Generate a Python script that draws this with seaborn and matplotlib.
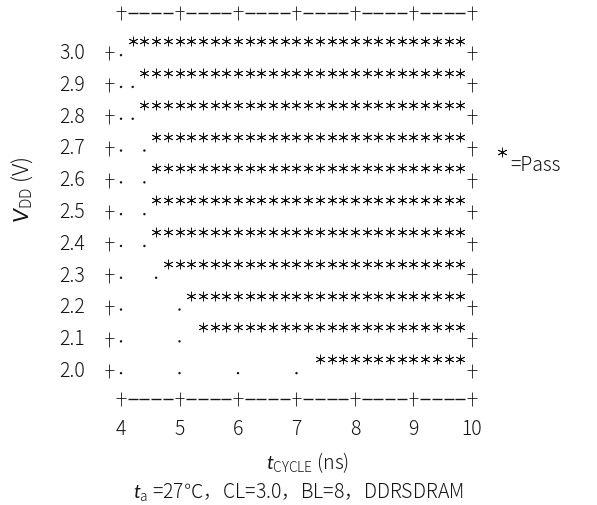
import numpy as np
import pandas as pd
import matplotlib
matplotlib.use("Agg")
import matplotlib.pyplot as plt
import matplotlib.transforms as mtransforms
from matplotlib.path import Path
import seaborn as sns

# Supply voltages (rows, top to bottom) and cycle-time columns of the shmoo grid
vdd_levels = [3.0, 2.9, 2.8, 2.7, 2.6, 2.5, 2.4, 2.3, 2.2, 2.1, 2.0]
tcycle_cols = [4.0, 4.2, 4.4, 4.6, 4.8, 5.0, 5.2, 5.4, 5.6, 5.8,
               6.0, 6.2, 6.4, 6.6, 6.8, 7.0, 7.2, 7.4, 7.6, 7.8,
               8.0, 8.2, 8.4, 8.6, 8.8, 9.0, 9.2, 9.4, 9.6, 9.8]

# One string per voltage: '*' = pass, '.' = fail, ' ' = not tested
shmoo_rows = [
    "." + "*" * 29,
    ".." + "*" * 28,
    ".." + "*" * 28,
    ". ." + "*" * 27,
    ". ." + "*" * 27,
    ". ." + "*" * 27,
    ". ." + "*" * 27,
    ".  ." + "*" * 26,
    ".    ." + "*" * 24,
    ".    . " + "*" * 23,
    ".    .    .    . " + "*" * 13,
]

x_ticks = [4, 5, 6, 7, 8, 9, 10]
y_ticks = [3.0, 2.9, 2.8, 2.7, 2.6, 2.5, 2.4, 2.3, 2.2, 2.1, 2.0]
y_ticklabels = ["3.0", "2.9", "2.8", "2.7", "2.6", "2.5", "2.4", "2.3", "2.2", "2.1", "2.0"]

records = []
for v, row in zip(vdd_levels, shmoo_rows):
    for t, ch in zip(tcycle_cols, row):
        if ch == "*":
            records.append((t, v, "Pass"))
        elif ch == ".":
            records.append((t, v, "Fail"))
df = pd.DataFrame(records, columns=["tcycle", "vdd", "result"])

sns.set_style("white")
plt.rcParams["font.family"] = ["Noto Sans CJK JP", "DejaVu Sans"]
plt.rcParams["font.weight"] = "light"
plt.rcParams["mathtext.fontset"] = "custom"
plt.rcParams["mathtext.rm"] = "Noto Sans CJK JP:light"
plt.rcParams["mathtext.it"] = "Lato:italic:regular"

fig = plt.figure(figsize=(5.97, 5.05), dpi=100)
ax = fig.add_axes([0.1635, 0.1812, 0.6516, 0.8123])
ax.set_xlim(3.6, 10.25)
ax.set_ylim(1.86, 3.15)

ink = "#151515"
asterisk = (6, 2, 0)
# character-style plus: crossbar a little above the middle of a tall stem
plus_mark = Path([(-0.38, 0.12), (0.38, 0.12), (0.0, -0.6), (0.0, 0.6)],
                 [Path.MOVETO, Path.LINETO, Path.MOVETO, Path.LINETO])


def shift(points):
    return mtransforms.offset_copy(ax.transData, fig=fig, x=0, y=points, units="points")


# Pass points: six-armed asterisks, raised like superscript glyphs
sns.scatterplot(data=df[df.result == "Pass"], x="tcycle", y="vdd",
                marker=asterisk, s=42, color=ink, linewidth=0.6,
                legend=False, ax=ax)
ax.collections[-1].set_offset_transform(shift(7.0))

# Fail points: small dots on the baseline
sns.scatterplot(data=df[df.result == "Fail"], x="tcycle", y="vdd",
                marker="o", s=3, color=ink, edgecolor="none",
                legend=False, ax=ax)
ax.collections[-1].set_offset_transform(shift(-3.0))

# Frame drawn in the character-plot style: '+' marks and dashes
row_left = pd.DataFrame({"tcycle": [3.8] * len(vdd_levels), "vdd": vdd_levels})
row_right = pd.DataFrame({"tcycle": [10.0] * len(vdd_levels), "vdd": vdd_levels})
for side in (row_left, row_right):
    sns.scatterplot(data=side, x="tcycle", y="vdd", marker=plus_mark, s=110,
                    facecolor="none", edgecolor=ink, linewidth=0.6,
                    legend=False, ax=ax)
    ax.collections[-1].set_offset_transform(shift(-1.5))

frame_levels = [3.12, 1.905]
dash_pos = [round(x_ticks[0] + 0.2 * k, 1) for k in range(31)]
dash_pos = [t for t in dash_pos if abs(t - round(t)) > 1e-6]
for lvl in frame_levels:
    ax.scatter(x_ticks, [lvl] * len(x_ticks), marker=plus_mark, s=110,
               facecolor="none", edgecolor=ink, linewidths=0.6)
    ax.scatter(dash_pos, [lvl] * len(dash_pos), marker="_", s=45, color=ink,
               linewidths=1.0)

for s in ax.spines.values():
    s.set_visible(False)
ax.set_xticks(x_ticks)
ax.set_xticklabels([str(t) for t in x_ticks], fontsize=14, color=ink)
ax.set_yticks(y_ticks)
ax.set_yticklabels(y_ticklabels, fontsize=14, color=ink)
ax.tick_params(axis="x", length=0, pad=4)
ax.tick_params(axis="y", length=0, pad=9)
ax.set_xlabel("")
ax.set_ylabel("")

fig.text(0.516, 0.083, r"$t_{\mathrm{CYCLE}}$ (ns)", ha="center", va="center",
         fontsize=14, color=ink)
fig.text(0.037, 0.624, r"$V_{\mathrm{DD}}$ (V)", ha="center", va="center",
         rotation=90, fontsize=16, color=ink)
fig.text(0.499, 0.026, r"$t_{\mathrm{a}}$ =27℃，CL=3.0，BL=8，DDRSDRAM",
         ha="center", va="center", fontsize=14, color=ink)

# Key: the pass symbol followed by its meaning
ax.scatter([0.841], [0.699], marker=asterisk, s=42, color=ink, linewidths=0.6,
           transform=fig.transFigure, clip_on=False)
fig.text(0.855, 0.673, "=Pass", ha="left", va="center", fontsize=14, color=ink)

fig.savefig("out.png", dpi=100)
